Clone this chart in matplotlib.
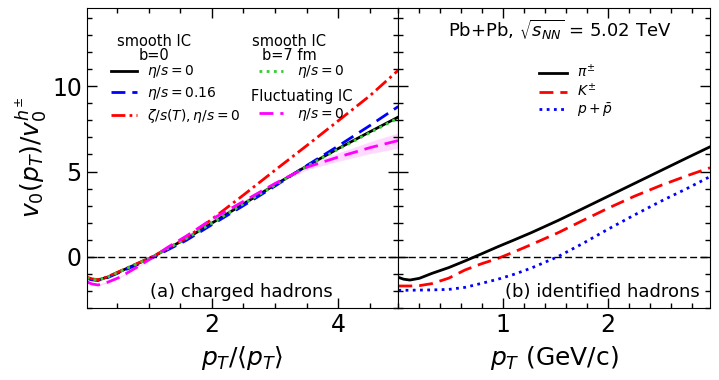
import numpy as np
import matplotlib
matplotlib.use("Agg")
import matplotlib.pyplot as plt
from matplotlib.ticker import MultipleLocator, FixedLocator

# (a) charged hadrons, x = pT/<pT>
x_a = [0.02, 0.1, 0.2, 0.35, 0.54, 0.8, 1.07, 1.3, 1.59, 2.0, 2.5, 3.0, 3.5, 4.0, 4.5, 4.95]
smooth_b0_ideal = [-1.23, -1.33, -1.37, -1.2, -0.88, -0.45, 0.0, 0.47, 1.05, 1.97, 3.1, 4.22, 5.32, 6.35, 7.33, 8.2]
smooth_b0_visc = [-1.26, -1.36, -1.39, -1.23, -0.92, -0.5, -0.04, 0.4, 0.95, 1.88, 3.0, 4.15, 5.35, 6.5, 7.7, 8.82]
smooth_b0_bulk = [-1.2, -1.3, -1.35, -1.18, -0.86, -0.43, 0.02, 0.5, 1.08, 2.2, 3.62, 5.08, 6.52, 7.98, 9.45, 10.95]
smooth_b7_ideal = [-1.23, -1.33, -1.37, -1.2, -0.88, -0.45, 0.0, 0.47, 1.05, 1.97, 3.1, 4.2, 5.3, 6.32, 7.28, 8.15]
fluct_ideal = [-1.47, -1.6, -1.66, -1.5, -1.21, -0.65, -0.03, 0.55, 1.2, 2.2, 3.25, 4.3, 5.25, 5.85, 6.4, 6.82]
fluct_err = [0.05, 0.05, 0.05, 0.05, 0.05, 0.05, 0.05, 0.05, 0.05, 0.05, 0.06, 0.08, 0.15, 0.25, 0.35, 0.45]

# (b) identified hadrons, x = pT (GeV/c)
x_b = [0.0, 0.05, 0.11, 0.2, 0.32, 0.48, 0.635, 0.79, 0.95, 1.11, 1.27, 1.52, 1.75, 2.0, 2.25, 2.5, 2.75, 2.97]
pion = [-1.21, -1.32, -1.37, -1.27, -0.98, -0.64, -0.25, 0.16, 0.59, 1.0, 1.42, 2.12, 2.8, 3.55, 4.3, 5.05, 5.8, 6.45]
kaon = [-1.72, -1.72, -1.72, -1.7, -1.58, -1.26, -0.78, -0.42, -0.1, 0.3, 0.72, 1.4, 2.1, 2.85, 3.55, 4.18, 4.75, 5.22]
proton = [-1.97, -1.97, -1.97, -1.96, -1.95, -1.92, -1.8, -1.57, -1.32, -1.02, -0.66, 0.0, 0.75, 1.62, 2.45, 3.25, 4.0, 4.7]

fig, (ax1, ax2) = plt.subplots(1, 2, figsize=(7.19, 3.8), dpi=100, sharey=True)
fig.subplots_adjust(left=0.1206, right=0.9875, top=0.979, bottom=0.19, wspace=0)

lw = 2
dashed = (0, (5, 2.5))
dotted = (0, (1, 1.6))
dashdot = (0, (5, 1.5, 1, 1.5))

x_a = np.array(x_a)
fl = np.array(fluct_ideal)
fe = np.array(fluct_err)
ax1.fill_between(x_a, fl - fe, fl + fe, color="magenta", alpha=0.15, lw=0)
l1, = ax1.plot(x_a, smooth_b0_ideal, color="black", lw=lw, ls="-")
l2, = ax1.plot(x_a, smooth_b0_visc, color="blue", lw=lw, ls=dashed)
l3, = ax1.plot(x_a, smooth_b0_bulk, color="red", lw=lw, ls=dashdot)
l4, = ax1.plot(x_a, smooth_b7_ideal, color="limegreen", lw=lw, ls=dotted)
l5, = ax1.plot(x_a, fluct_ideal, color="magenta", lw=lw, ls=dashed)

p1, = ax2.plot(x_b, pion, color="black", lw=lw, ls="-")
p2, = ax2.plot(x_b, kaon, color="red", lw=lw, ls=dashed)
p3, = ax2.plot(x_b, proton, color="blue", lw=lw, ls=dotted)

for ax in (ax1, ax2):
    ax.axhline(0, color="black", lw=1, ls=(0, (5, 2.5)))
    ax.tick_params(which="both", direction="in", top=True, right=True, labelsize=17, width=1)
    ax.tick_params(which="major", length=7)
    ax.tick_params(which="minor", length=3.5)
    ax.yaxis.set_major_locator(MultipleLocator(5))
    ax.yaxis.set_minor_locator(MultipleLocator(1))

ax1.set_xlim(0.02, 4.95)
ax1.set_ylim(-3, 14.6)
ax1.xaxis.set_major_locator(MultipleLocator(2))
ax1.xaxis.set_minor_locator(MultipleLocator(0.5))
ax2.set_xlim(0, 2.97)
ax2.xaxis.set_major_locator(FixedLocator([1, 2]))
ax2.xaxis.set_minor_locator(MultipleLocator(0.2))
ax2.tick_params(labelleft=False)

ax1.set_ylabel(r"$v_0(p_T)/v_0^{h^{\pm}}$", fontsize=18, labelpad=2)
ax1.set_xlabel(r"$p_T/\langle p_T\rangle$", fontsize=18, labelpad=5)
ax2.set_xlabel(r"$p_T$ (GeV/c)", fontsize=18, labelpad=5)

ax1.text(0.495, 0.052, "(a) charged hadrons", transform=ax1.transAxes, ha="center", va="center", fontsize=13)
ax2.text(0.968, 0.052, "(b) identified hadrons", transform=ax2.transAxes, ha="right", va="center", fontsize=13)
ax2.text(0.519, 0.927, r"Pb+Pb, $\sqrt{s_{NN}}$ = 5.02 TeV", transform=ax2.transAxes,
         ha="center", va="center", fontsize=13)

# legend group titles
title_kw = dict(transform=ax1.transAxes, ha="center", va="center", fontsize=10.5,
                multialignment="center", linespacing=0.95)
ax1.text(0.216, 0.864, "smooth IC\nb=0", **title_kw)
ax1.text(0.649, 0.864, "smooth IC\nb=7 fm", **title_kw)
ax1.text(0.691, 0.706, "Fluctuating IC", **title_kw)

leg_kw = dict(frameon=False, fontsize=10, handlelength=1.9, labelspacing=0.35,
              handletextpad=0.7, borderpad=0, borderaxespad=0, loc="upper left")
lg1 = ax1.legend([l1, l2, l3], [r"$\eta/s=0$", r"$\eta/s=0.16$", r"$\zeta/s(T), \eta/s=0$"],
                 bbox_to_anchor=(0.078, 0.815), **leg_kw)
ax1.add_artist(lg1)
lg2 = ax1.legend([l4], [r"$\eta/s=0$"], bbox_to_anchor=(0.553, 0.815),
                 **dict(leg_kw, handlelength=1.7, handletextpad=1.0))
ax1.add_artist(lg2)
ax1.legend([l5], [r"$\eta/s=0$"], bbox_to_anchor=(0.553, 0.673),
           **dict(leg_kw, handlelength=1.7, handletextpad=1.0))

ax2.legend([p1, p2, p3], [r"$\pi^{\pm}$", r"$K^{\pm}$", r"$p+\bar{p}$"], frameon=False, fontsize=10,
           handlelength=2.0, labelspacing=0.1, handletextpad=0.7, loc="upper left",
           bbox_to_anchor=(0.452, 0.815), borderpad=0, borderaxespad=0)

fig.savefig("out.png", dpi=100)
